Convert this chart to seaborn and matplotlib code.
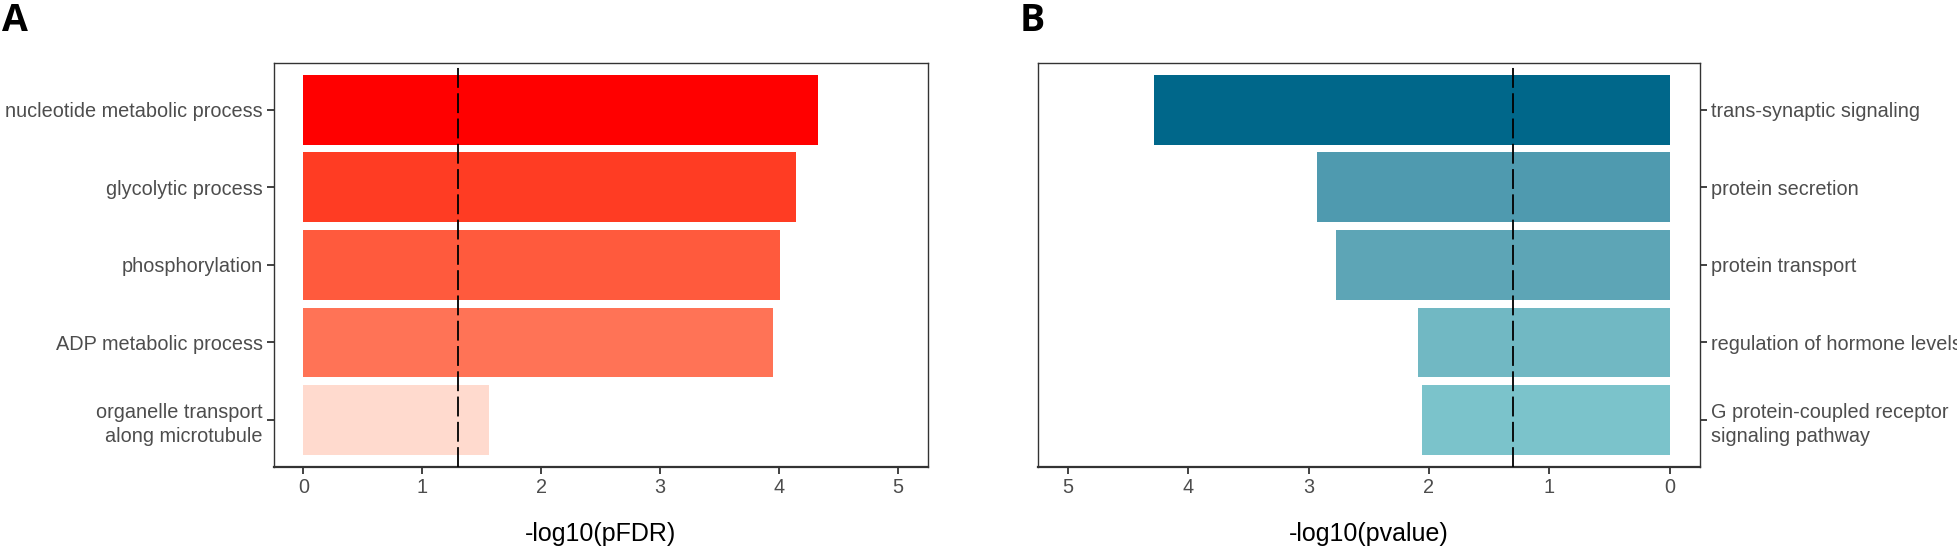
import pandas as pd
import numpy as np
import matplotlib
matplotlib.use("Agg")
import matplotlib.pyplot as plt
import seaborn as sns

# Datos del panel A (GO terms, -log10 pFDR)
terms_a = ["nucleotide metabolic process", "glycolytic process", "phosphorylation",
           "ADP metabolic process", "organelle transport\nalong microtubule"]
vals_a = [4.33, 4.14, 4.01, 3.95, 1.56]
colors_a = ["#FF0000", "#FF3C23", "#FF5A3D", "#FF7356", "#FFDACE"]

# Datos del panel B (GO terms, -log10 pvalue)
terms_b = ["trans-synaptic signaling", "protein secretion", "protein transport",
           "regulation of hormone levels", "G protein-coupled receptor\nsignaling pathway"]
vals_b = [4.28, 2.93, 2.77, 2.09, 2.06]
colors_b = ["#00678A", "#4F9AAF", "#5DA5B6", "#71B8C3", "#7BC3CB"]

cutoff = -np.log10(0.05)
xticks = [0, 1, 2, 3, 4, 5]

sns.set_style("white")
plt.rcParams['font.family'] = ['Liberation Sans', 'DejaVu Sans']

df_a = pd.DataFrame({"term": terms_a, "val": vals_a})
df_b = pd.DataFrame({"term": terms_b, "val": vals_b})

fig = plt.figure(figsize=(19.58, 5.54), dpi=100)
ax_a = fig.add_axes([0.1398, 0.1576, 0.334, 0.7287])
ax_b = fig.add_axes([0.530, 0.1576, 0.3381, 0.7287])


def draw_panel(ax, df, pal, xlabel, right=False):
    sns.barplot(data=df, x="val", y="term", hue="term", palette=pal, orient="h",
                width=0.9, legend=False, ax=ax, saturation=1, edgecolor="none")
    ax.axvline(cutoff, color="black", linestyle=(0, (11, 3)), linewidth=1.3, zorder=5)
    ax.set_ylim(4.6, -0.6)
    if right:
        ax.set_xlim(5.25, -0.25)
        ax.yaxis.tick_right()
        ax.yaxis.set_label_position("right")
    else:
        ax.set_xlim(-0.25, 5.25)
    ax.set_xticks(xticks)
    ax.set_xticklabels([str(t) for t in xticks])
    ax.set_xlabel(xlabel, fontsize=18, color="black", labelpad=18)
    ax.set_ylabel("")
    ax.tick_params(axis="both", which="major", labelsize=14.3, labelcolor="#4D4D4D",
                   length=5, width=1.3, color="#333333", pad=3,
                   bottom=True, left=not right, right=right)
    for lab in ax.get_yticklabels():
        lab.set_linespacing(1.3)
    for s in ax.spines.values():
        s.set_visible(True)
        s.set_color("#333333")
        s.set_linewidth(1.0)
    ax.spines["bottom"].set_linewidth(1.6)


draw_panel(ax_a, df_a, colors_a, "-log10(pFDR)")
draw_panel(ax_b, df_b, colors_b, "-log10(pvalue)", right=True)

fig.text(0.001, 0.997, "A", fontsize=27, fontweight="bold", family="Open Sans",
         color="black", va="top", ha="left")
fig.text(0.5205, 0.997, "B", fontsize=27, fontweight="bold", family="Open Sans",
         color="black", va="top", ha="left")

fig.savefig("out.png", dpi=100)
